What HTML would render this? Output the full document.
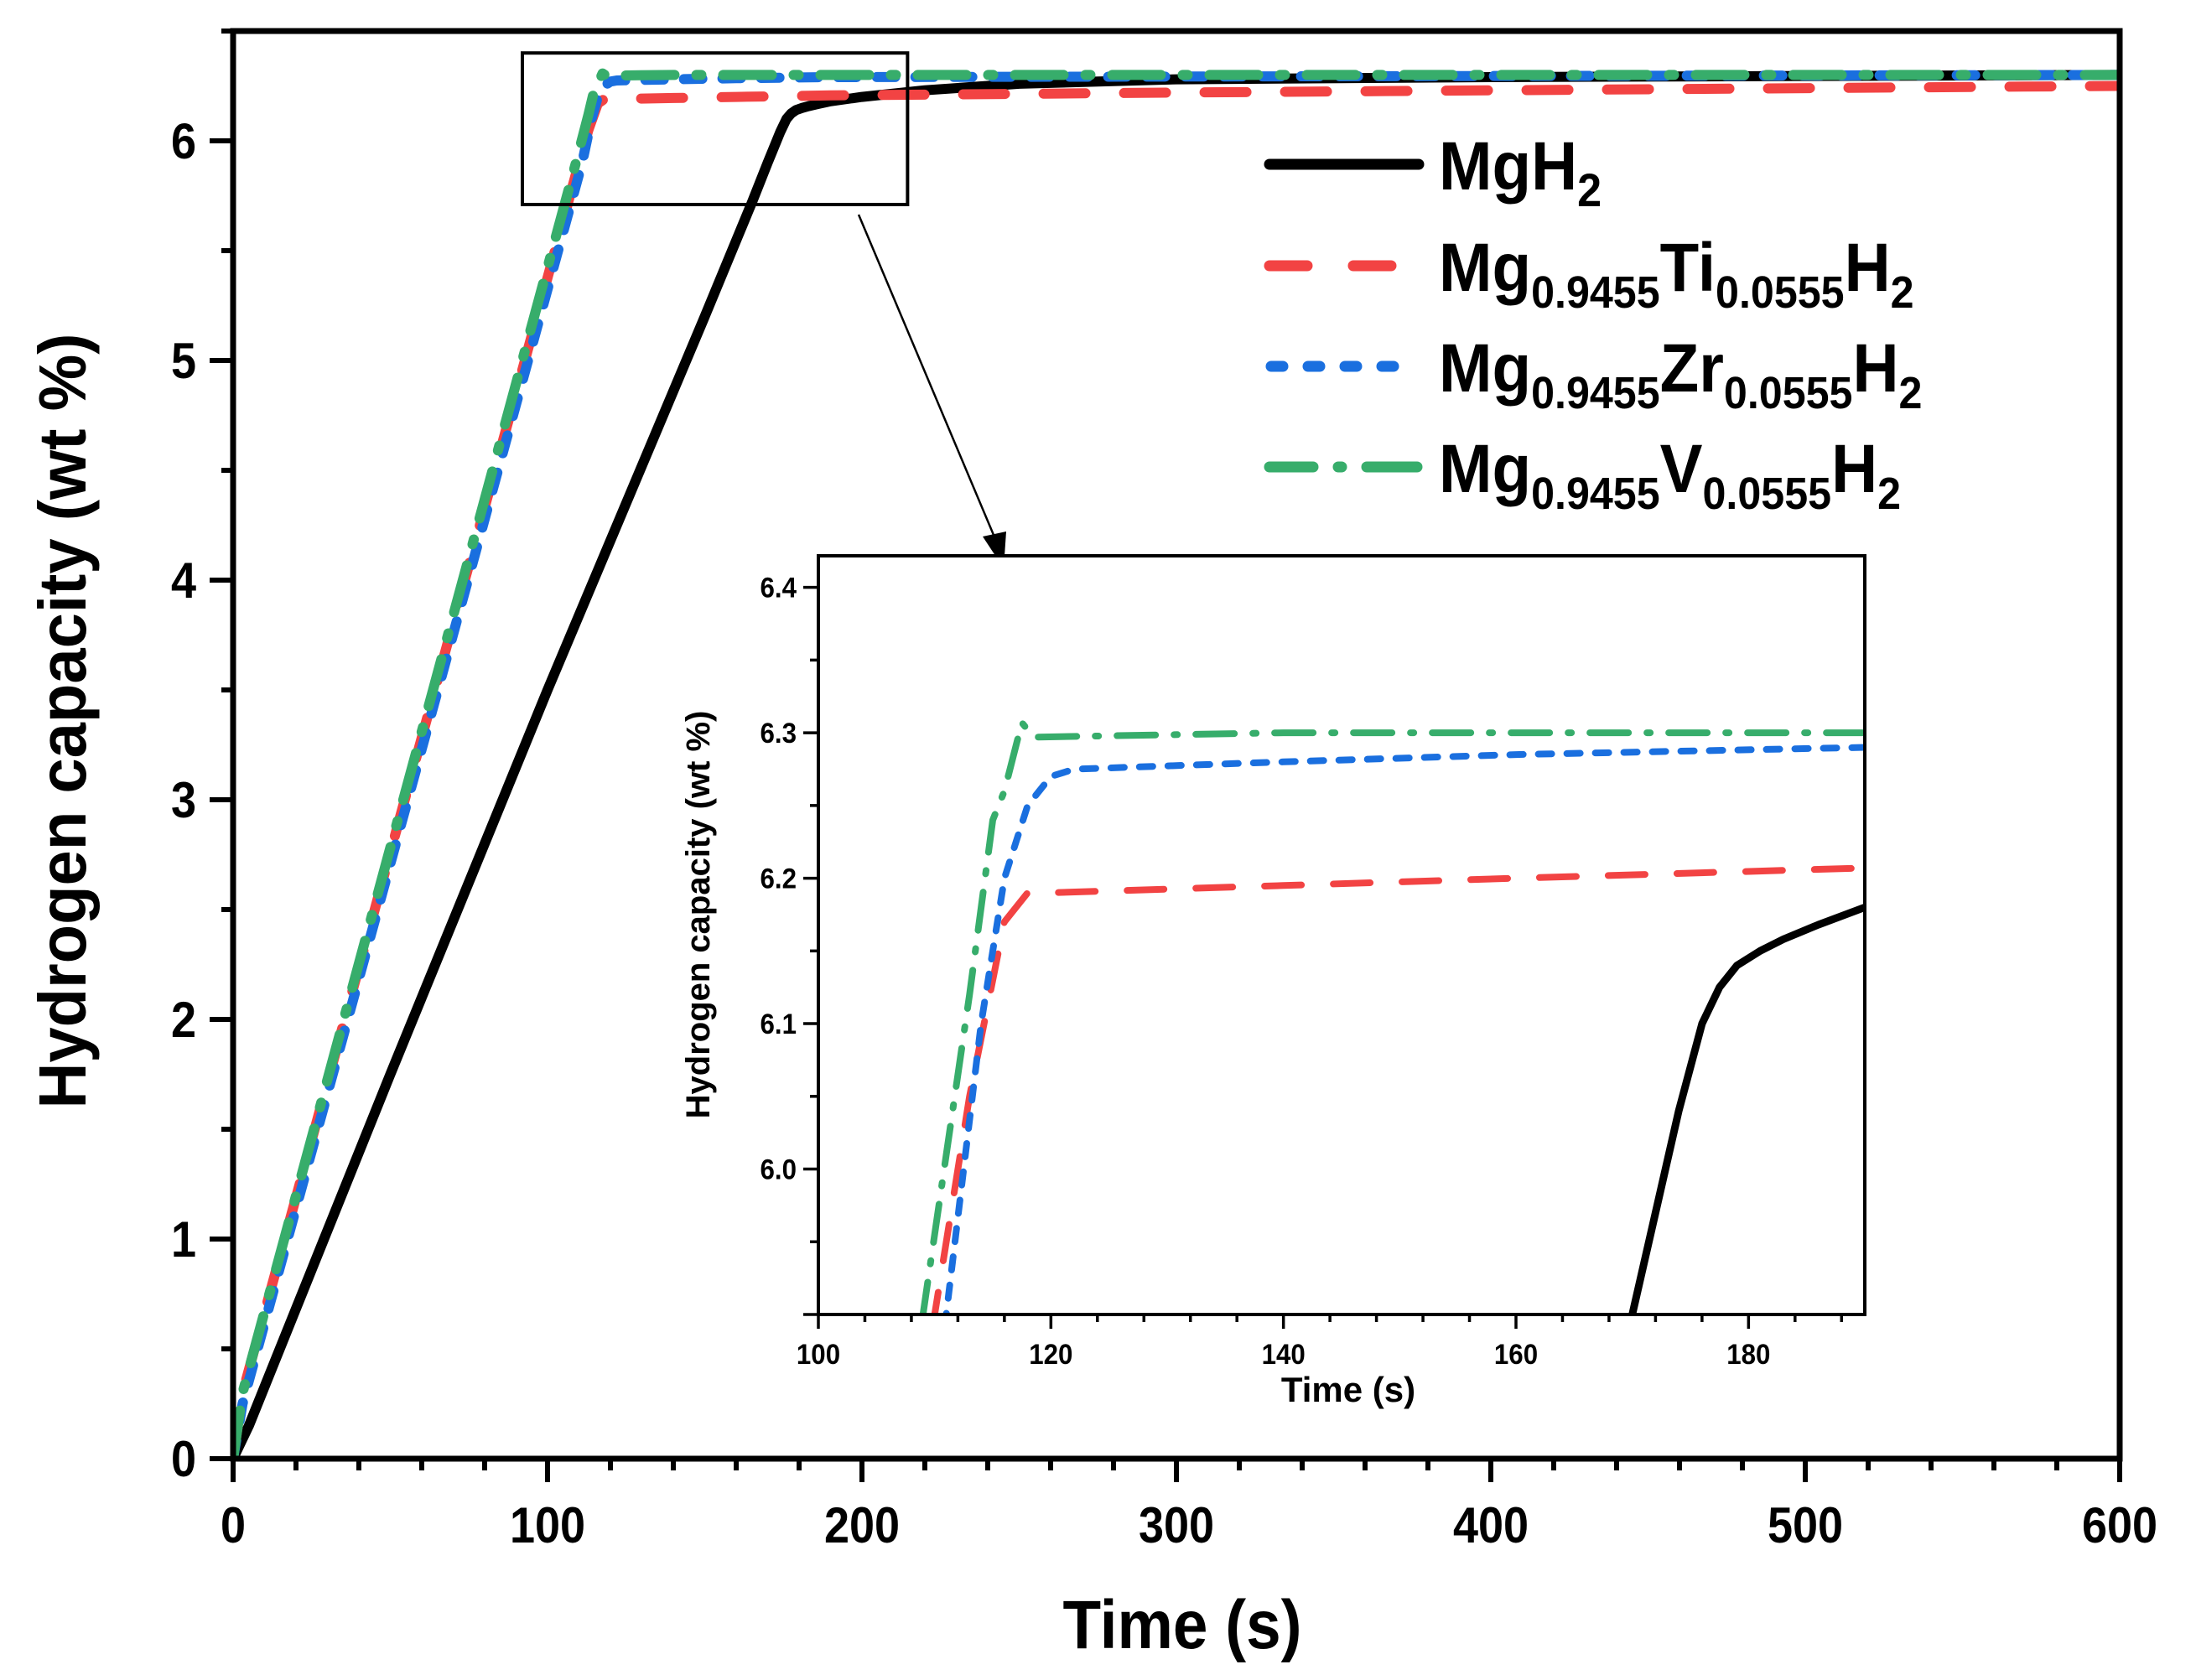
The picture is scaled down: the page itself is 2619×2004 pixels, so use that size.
<!DOCTYPE html>
<html><head><meta charset="utf-8"><style>
html,body{margin:0;padding:0;background:#fff;width:2619px;height:2004px;overflow:hidden;position:relative}
svg{display:block}
text{font-family:"Liberation Sans",sans-serif;font-weight:bold;fill:#000}
</style></head><body>
<svg id="chart" width="2619" height="2004" viewBox="0 0 2619 2004" xmlns="http://www.w3.org/2000/svg" style="position:absolute;left:0;top:0">
<defs>
<clipPath id="mainClip"><rect x="278" y="37" width="2250" height="1703"/></clipPath>
<clipPath id="insetClip"><rect x="976" y="663" width="1248" height="905"/></clipPath>
</defs>
<g id="main"></g>
<g id="inset"></g>
</svg>
<script>
// ---- data ----
const seriesNames = ["MgH2","Ti","Zr","V"];
const mgTime = [0,5,50,100,150,165,170,172,174,176,177.5,179,181,183,186,190,200,220,250,300,400,600];
const mgCap  = [0,0.15,1.75,3.5,5.2,5.72,5.9,5.97,6.04,6.1,6.125,6.14,6.15,6.158,6.168,6.18,6.2,6.23,6.26,6.28,6.29,6.30];
const tiTime = [0,3,110,113,116,118,120,140,160,190,300,600];
const tiCap  = [0,0.3,5.9,6.05,6.17,6.19,6.19,6.195,6.2,6.207,6.22,6.25];
const zrTime = [0,3,111,114,116,118,120,122,140,160,190,600];
const zrCap  = [0,0.25,5.9,6.1,6.2,6.25,6.27,6.275,6.28,6.285,6.29,6.30];
const vTime  = [0,3,109,113,115,116,117.5,118.5,140,190,600];
const vCap   = [0,0.3,5.9,6.12,6.24,6.26,6.307,6.297,6.3,6.3,6.3];
const mainXTicks = [0,100,200,300,400,500,600];
const mainYTicks = [0,1,2,3,4,5,6];
const insetXTicks = [100,120,140,160,180];
const insetYTicks = [6.0,6.1,6.2,6.3,6.4];
const zoomBox = [92,214.5,5.71,6.40];

const NS="http://www.w3.org/2000/svg";
function mk(tag,attrs,parent){const e=document.createElementNS(NS,tag);for(const k in attrs)e.setAttribute(k,attrs[k]);parent.appendChild(e);return e;}

const mx=t=>278+(t-0)/600*2250;
const my=v=>1740-v/6.5*(1740-37);
const IL=976,IR=2224,IT=663,IB=1568;
const ix=t=>IL+(t-100)/90*(IR-IL);
const iy=v=>IB-(v-5.9)/(6.4217-5.9)*(IB-IT);

const styles=[
 {c:"#000000",d:"",w:12,iw:9},
 {c:"#f24343",d:"50 46",w:12,iw:8,id:"44 38"},
 {c:"#1a6fdf",d:"22 24",w:12,iw:8,id:"16 18"},
 {c:"#37ad6b",d:"58 26 6 26",w:12,iw:8,id:"46 22 4 22"}
];
const T=[mgTime,tiTime,zrTime,vTime], V=[mgCap,tiCap,zrCap,vCap];

const main=document.getElementById('main');
const mg=mk('g',{'clip-path':'url(#mainClip)'},main);
for(let s=0;s<4;s++){
  const p=T[s].map((t,i)=>(i?'L':'M')+mx(t).toFixed(1)+' '+my(V[s][i]).toFixed(1)).join(' ');
  const el=mk('path',{d:p,fill:'none',stroke:styles[s].c,'stroke-width':styles[s].w,'stroke-dasharray':styles[s].d,'stroke-linecap':s?'round':'butt','stroke-linejoin':'round'},mg);
  
  
}
const fr=mk('rect',{x:278,y:37,width:2250,height:1703,fill:'none',stroke:'#000','stroke-width':7},main);

for(let t=0;t<=600;t+=20){
  const major=t%100===0;
  mk('line',{x1:mx(t),x2:mx(t),y1:1740,y2:major?1768:1754,stroke:'#000','stroke-width':6},main);
}
mainXTicks.forEach(t=>{const e=mk('text',{x:0,y:0,'font-size':60,'text-anchor':'middle',transform:'translate('+mx(t)+',1840) scale(0.9,1)'},main);e.textContent=t;
 });
for(let v=0;v<=6.5;v+=0.5){
  const major=Math.abs(v-Math.round(v))<1e-6;
  mk('line',{x1:278,x2:major?250:264,y1:my(v),y2:my(v),stroke:'#000','stroke-width':6},main);
}
mainYTicks.forEach(v=>{const e=mk('text',{x:0,y:0,'font-size':60,'text-anchor':'end',transform:'translate(234,'+(my(v)+21)+') scale(0.9,1)'},main);e.textContent=v;
 });
let xt=mk('text',{x:1410,y:1966,'font-size':82,'text-anchor':'middle',textLength:285,lengthAdjust:'spacingAndGlyphs'},main);xt.textContent='Time (s)';

let yt=mk('text',{x:0,y:0,'font-size':80,'text-anchor':'middle',textLength:925,lengthAdjust:'spacingAndGlyphs',transform:'translate(102,860) rotate(-90)'},main);yt.textContent='Hydrogen capacity (wt %)';

const zb=mk('rect',{x:mx(zoomBox[0]),y:my(zoomBox[3]),width:mx(zoomBox[1])-mx(zoomBox[0]),height:my(zoomBox[2])-my(zoomBox[3]),fill:'none',stroke:'#000','stroke-width':4},main);

const ar=mk('line',{x1:1024,y1:256,x2:1190,y2:650,stroke:'#000','stroke-width':2.5},main);

const ah=mk('polygon',{points:'1197,678 1172,640 1200,634',fill:'#000'},main);


const inset=document.getElementById('inset');
mk('rect',{x:IL,y:IT,width:IR-IL,height:IB-IT,fill:'#fff'},inset);
const ig=mk('g',{'clip-path':'url(#insetClip)'},inset);
for(let s=0;s<4;s++){
  const p=T[s].map((t,i)=>(i?'L':'M')+ix(t).toFixed(1)+' '+iy(V[s][i]).toFixed(1)).join(' ');
  const el=mk('path',{d:p,fill:'none',stroke:styles[s].c,'stroke-width':styles[s].iw,'stroke-dasharray':styles[s].id||'','stroke-linecap':s?'round':'butt','stroke-linejoin':'round'},ig);
  
  
}
const ifr=mk('rect',{x:IL,y:IT,width:IR-IL,height:IB-IT,fill:'none',stroke:'#000','stroke-width':4},inset);

for(let t=100;t<=190;t+=4){const major=(t-100)%20===0;
  mk('line',{x1:ix(t),x2:ix(t),y1:IB,y2:major?IB+17:IB+9,stroke:'#000','stroke-width':3.5},inset);}
insetXTicks.forEach(t=>{const e=mk('text',{x:0,y:0,'font-size':34,'text-anchor':'middle',transform:'translate('+ix(t)+',1627) scale(0.92,1)'},inset);e.textContent=t;
 });
for(let k=0;k<=10;k++){const v=5.9+k*0.05;if(v>6.42)break;const major=k%2===0;
  mk('line',{x1:IL,x2:major?IL-18:IL-10,y1:iy(v),y2:iy(v),stroke:'#000','stroke-width':3.5},inset);}
insetYTicks.forEach(v=>{const e=mk('text',{x:0,y:0,'font-size':34,'text-anchor':'end',transform:'translate(950,'+(iy(v)+12)+') scale(0.92,1)'},inset);e.textContent=v.toFixed(1);
 });
let ixt=mk('text',{x:1608,y:1672,'font-size':42,'text-anchor':'middle'},inset);ixt.textContent='Time (s)';

let iyt=mk('text',{x:0,y:0,'font-size':40,'text-anchor':'middle',transform:'translate(846,1091) rotate(-90)'},inset);iyt.textContent='Hydrogen capacity (wt %)';

</script>
<svg style="position:absolute;left:0;top:0" width="2619" height="2004">
<g font-family="Liberation Sans, sans-serif" font-weight="bold">
<g>
<line x1="1514" y1="196" x2="1692" y2="196" stroke="#000" stroke-width="13" stroke-linecap="round"/>
<text transform="translate(1716,226) scale(0.93,1)" font-size="82">MgH<tspan font-size="56" dy="20">2</tspan></text>
</g>
<g>
<line x1="1514" y1="317" x2="1692" y2="317" stroke="#f24343" stroke-width="13" stroke-dasharray="45 55" stroke-linecap="round"/>
<text transform="translate(1716,347) scale(0.93,1)" font-size="82">Mg<tspan font-size="54" dy="20">0.9455</tspan><tspan dy="-20">Ti</tspan><tspan font-size="54" dy="20">0.0555</tspan><tspan dy="-20">H</tspan><tspan font-size="54" dy="20">2</tspan></text>
</g>
<g>
<line x1="1516" y1="437" x2="1692" y2="437" stroke="#1a6fdf" stroke-width="13" stroke-dasharray="14 30" stroke-linecap="round"/>
<text transform="translate(1716,467) scale(0.93,1)" font-size="82">Mg<tspan font-size="54" dy="20">0.9455</tspan><tspan dy="-20">Zr</tspan><tspan font-size="54" dy="20">0.0555</tspan><tspan dy="-20">H</tspan><tspan font-size="54" dy="20">2</tspan></text>
</g>
<g>
<line x1="1514" y1="557" x2="1692" y2="557" stroke="#37ad6b" stroke-width="13" stroke-dasharray="52 30 4 30 60" stroke-linecap="round"/>
<text transform="translate(1716,587) scale(0.93,1)" font-size="82">Mg<tspan font-size="54" dy="20">0.9455</tspan><tspan dy="-20">V</tspan><tspan font-size="54" dy="20">0.0555</tspan><tspan dy="-20">H</tspan><tspan font-size="54" dy="20">2</tspan></text>
</g>
</g>
</svg>
</body></html>
